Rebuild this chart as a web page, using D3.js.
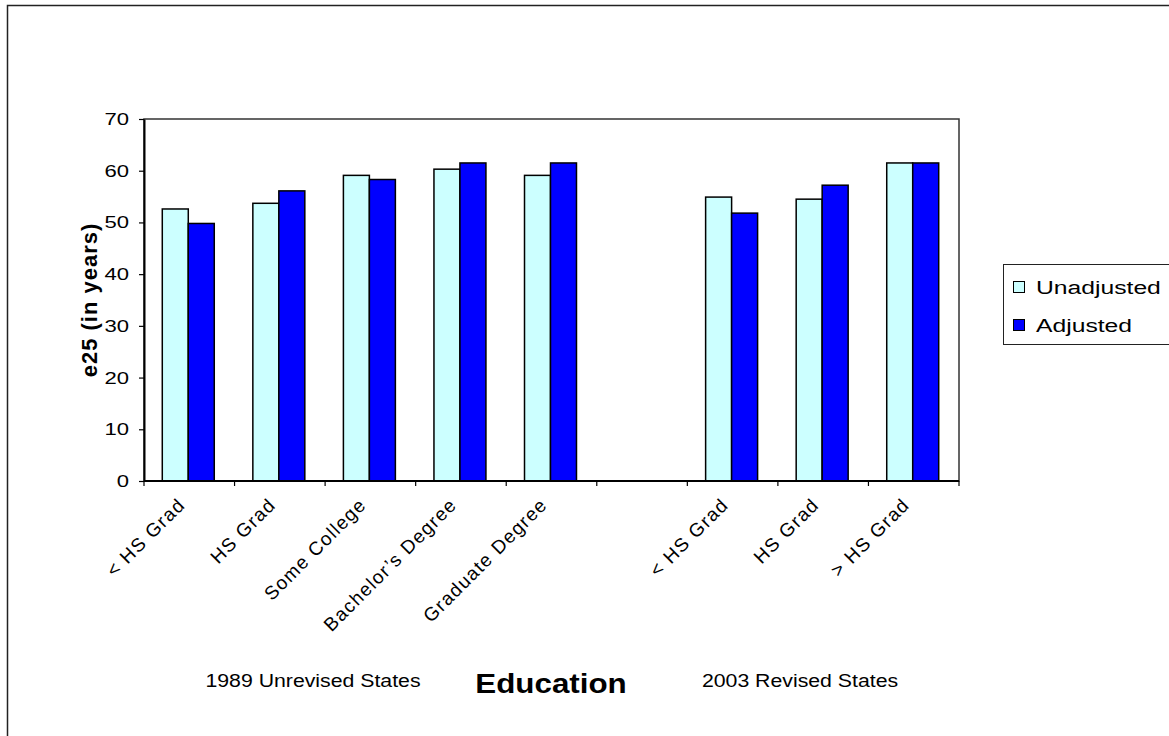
<!DOCTYPE html>
<html>
<head>
<meta charset="utf-8">
<script src="https://cdn.jsdelivr.net/npm/d3@7"></script>
<style>
  html, body { margin: 0; padding: 0; background: #fff; }
  svg { display: block; font-family: "Liberation Sans", Arial, sans-serif; }
</style>
</head>
<body>
<svg id="chart" width="1169" height="736"></svg>
<script>
const categories = ["< HS Grad", "HS Grad", "Some College", "Bachelor\u2019s Degree", "Graduate Degree", "", "< HS Grad", "HS Grad", "> HS Grad"];
const seriesNames = ["Unadjusted", "Adjusted"];
const unadjusted = [52.6, 53.7, 59.1, 60.3, 59.1, null, 54.9, 54.5, 61.5];
const adjusted   = [49.8, 56.1, 58.3, 61.5, 61.5, null, 51.8, 57.2, 61.5];
const yTicks = [0, 10, 20, 30, 40, 50, 60, 70];
const groupLabels = ["1989 Unrevised States", "2003 Revised States"];
const xTitle = "Education";
const yTitle = "e25 (in years)";
const colors = ["#CCFFFF", "#0000FF"];

const svg = d3.select("#chart");
const W = 1169, H = 736;

// outer chart border
svg.append("rect").attr("x", 7.5).attr("y", 5.5).attr("width", W + 10).attr("height", H + 10)
  .attr("fill", "#fff").attr("stroke", "#222").attr("stroke-width", 1.5);

const plot = { left: 144, right: 959, top: 119, bottom: 481 };

const keys = categories.map((c, i) => i);
const x0 = d3.scaleBand().domain(keys).range([plot.left, plot.right])
  .paddingInner(0.426).paddingOuter(0.213);
const x1 = d3.scaleBand().domain(seriesNames).range([0, x0.bandwidth()]);
const y = d3.scaleLinear().domain([0, 70]).range([plot.bottom, plot.top]);

// plot area border
svg.append("rect").attr("x", plot.left).attr("y", plot.top)
  .attr("width", plot.right - plot.left).attr("height", plot.bottom - plot.top)
  .attr("fill", "#fff").attr("stroke", "#333").attr("stroke-width", 1.5);

// bars
const rows = keys.map(i => ({ i, vals: [unadjusted[i], adjusted[i]] }));
const g = svg.append("g");
rows.forEach(r => {
  r.vals.forEach((v, s) => {
    if (v == null) return;
    g.append("rect")
      .attr("x", x0(r.i) - 1 + x1(seriesNames[s]))
      .attr("y", y(v))
      .attr("width", x1.bandwidth())
      .attr("height", y(0) - y(v))
      .attr("fill", colors[s])
      .attr("stroke", "#000").attr("stroke-width", 1.5);
  });
});

// y axis
const yAxis = d3.axisLeft(y).tickValues(yTicks).tickSize(5).tickSizeOuter(0);
const ya = svg.append("g").attr("transform", `translate(${plot.left},0)`).call(yAxis);
ya.select(".domain").attr("stroke", "#000").attr("stroke-width", 2);
ya.selectAll(".tick line").attr("stroke", "#000").attr("stroke-width", 1.2);
ya.selectAll(".tick text")
  .attr("x", null)
  .attr("transform", "translate(-15,0) scale(1.3,1)")
  .attr("font-size", 17).attr("fill", "#000")
  .attr("font-family", "Liberation Sans, Arial, sans-serif");

// x axis: ticks at slot boundaries
const step = x0.step();
const boundaries = d3.range(categories.length + 1).map(k => plot.left + k * step);
const xa = svg.append("g");
xa.append("line").attr("x1", plot.left).attr("x2", plot.right)
  .attr("y1", plot.bottom).attr("y2", plot.bottom).attr("stroke", "#000").attr("stroke-width", 2);
xa.selectAll("line.tk").data(boundaries).enter().append("line").attr("class", "tk")
  .attr("x1", d => d).attr("x2", d => d).attr("y1", plot.bottom).attr("y2", plot.bottom + 5)
  .attr("stroke", "#000").attr("stroke-width", 1.2);

// category labels rotated
xa.selectAll("text.cat").data(keys).enter().append("text").attr("class", "cat")
  .attr("transform", d => `translate(${x0(d) + x0.bandwidth() / 2 - 3},506) rotate(-45)`)
  .attr("text-anchor", "end")
  .attr("font-size", 19).attr("letter-spacing", 1.3).attr("fill", "#000")
  .text(d => categories[d]);

// titles
svg.append("text").attr("transform", `translate(97,${(plot.top + plot.bottom) / 2}) rotate(-90)`)
  .attr("text-anchor", "middle").attr("font-size", 22).attr("letter-spacing", 1)
  .attr("font-weight", "bold").text(yTitle);

svg.append("text").attr("transform", "translate(551,693) scale(1.1,1)").attr("text-anchor", "middle")
  .attr("font-size", 28.5).attr("font-weight", "bold").text(xTitle);

svg.append("text").attr("transform", "translate(313,687) scale(1.15,1)").attr("text-anchor", "middle")
  .attr("font-size", 18.5).text(groupLabels[0]);
svg.append("text").attr("transform", "translate(800,687) scale(1.15,1)").attr("text-anchor", "middle")
  .attr("font-size", 18.5).text(groupLabels[1]);

// legend
const lg = svg.append("g");
lg.append("rect").attr("x", 1003.5).attr("y", 264.5).attr("width", 200).attr("height", 80)
  .attr("fill", "#fff").attr("stroke", "#222").attr("stroke-width", 1);
seriesNames.forEach((n, k) => {
  const cy = 287 + k * 38;
  lg.append("rect").attr("x", 1013.5).attr("y", cy - 5.5).attr("width", 11).attr("height", 11)
    .attr("fill", colors[k]).attr("stroke", "#000").attr("stroke-width", 1);
  lg.append("text").attr("transform", `translate(1036,${cy + 7}) scale(1.3,1)`)
    .attr("font-size", 19).text(n);
});
</script>
</body>
</html>
